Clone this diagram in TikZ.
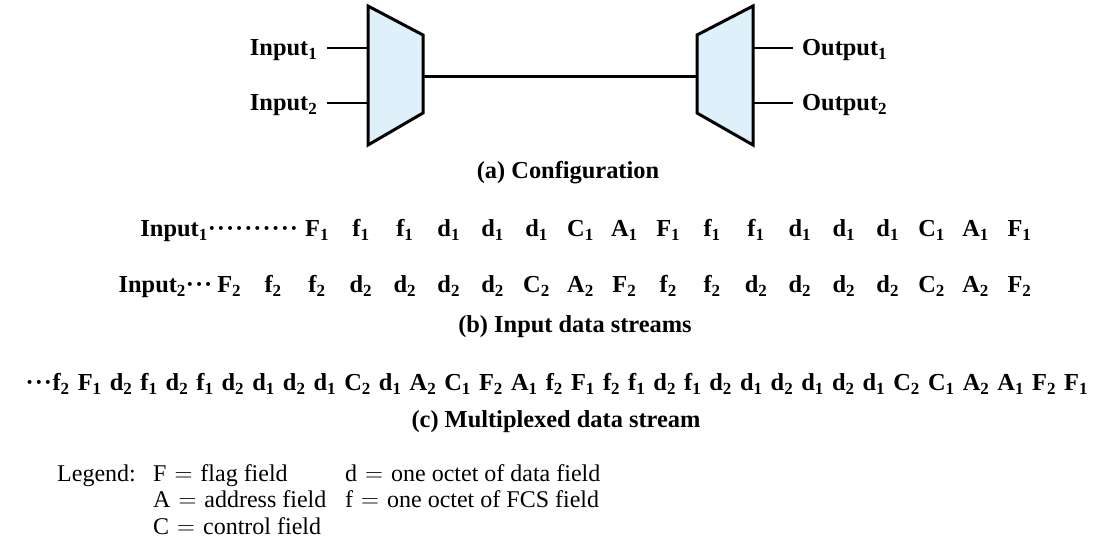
\documentclass[tikz,border=0pt]{standalone}
\usepackage{fontspec}
\setmainfont{Liberation Serif}
\usetikzlibrary{positioning}
\definecolor{muxblue}{RGB}{222,240,250}
\newcommand{\dotrun}[1]{\foreach \i in {1,...,#1}{\kern0.5pt\textperiodcentered\kern0.5pt}}
\newcommand{\sub}[1]{\raisebox{-4pt}{\fontsize{17}{17}\selectfont #1}}
\newcommand{\eq}{\ \hspace{2pt}$=$\hspace{2pt}\ }

\begin{document}
\begin{tikzpicture}[x=1pt,y=-1pt]
\tikzstyle{every node}=[font=\fontsize{24.4}{28}\selectfont\bfseries, inner sep=0pt]
\tikzstyle{legend}=[font=\fontsize{24}{28}\selectfont, anchor=base west]
\tikzstyle{mux}=[draw, line width=3pt, fill=muxblue, line join=miter]
\tikzstyle{wire}=[line width=1.5pt]
\tikzstyle{item}=[anchor=base]
\useasboundingbox (0,0) rectangle (1113,547);

\coordinate (muxL in1) at (368,48);
\coordinate (muxL in2) at (368,103);
\coordinate (muxL out) at (423,76);
\coordinate (muxR in) at (697,76);
\coordinate (muxR out1) at (753,48);
\coordinate (muxR out2) at (753,103);

\draw[mux] (368,6) -- (423,35) -- (423,113) -- (368,145) -- cycle;
\draw[mux] (753,6) -- (697,35) -- (697,113) -- (753,145) -- cycle;
\draw[line width=3pt] (muxL out) -- (muxR in);

\node[left=41pt of muxL in1, inner xsep=10pt, yshift=-2pt] (in1) {Input\sub{1}};
\node[left=41pt of muxL in2, inner xsep=10pt, yshift=-2pt] (in2) {Input\sub{2}};
\node[right=40pt of muxR out1, inner xsep=9pt, yshift=-2pt] (out1) {Output\sub{1}};
\node[right=40pt of muxR out2, inner xsep=9pt, yshift=-2pt] (out2) {Output\sub{2}};
\draw[wire] (in1.east |- muxL in1) -- (muxL in1);
\draw[wire] (in2.east |- muxL in2) -- (muxL in2);
\draw[wire] (muxR out1) -- (out1.west |- muxR out1);
\draw[wire] (muxR out2) -- (out2.west |- muxR out2);

\node[item] (capA) at (568,178) {(a) Configuration};

\foreach \sym [count=\k from 2] in {F,f,f,d,d,d,C,A,F,f,f,d,d,d,C,A,F}
  \node[item] (a\k) at (229+43.9*\k,236) {\sym\sub{1}};
\foreach \sym [count=\k from 0] in {F,f,f,d,d,d,d,C,A,F,f,f,d,d,d,d,C,A,F}
  \node[item] (b\k) at (229+43.9*\k,292) {\sym\sub{2}};
\node[anchor=base east] (lab1) at ([xshift=-6pt]a2.base west) {Input\sub{1}\dotrun{10}};
\node[anchor=base east] (lab2) at ([xshift=-4pt]b0.base west) {Input\sub{2}\dotrun{3}};

\node[item] (capB) at (575,332) {(b) Input data streams};

\node[anchor=base west] (stream) at (25,390) {\dotrun{3}\makebox[1035pt][s]{f\sub{2} F\sub{1} d\sub{2} f\sub{1} d\sub{2} f\sub{1} d\sub{2} d\sub{1} d\sub{2} d\sub{1} C\sub{2} d\sub{1} A\sub{2} C\sub{1} F\sub{2} A\sub{1} f\sub{2} F\sub{1} f\sub{2} f\sub{1} d\sub{2} f\sub{1} d\sub{2} d\sub{1} d\sub{2} d\sub{1} d\sub{2} d\sub{1} C\sub{2} C\sub{1} A\sub{2} A\sub{1} F\sub{2} F\sub{1}}};

\node[item] (capC) at (556,427) {(c) Multiplexed data stream};

\node[legend] (leg) at (57,481) {Legend:};
\node[legend] (legF) at (153,481) {F\eq flag field};
\node[legend] (legA) at (153,507) {A\eq address field};
\node[legend] (legC) at (153,534) {C\eq control field};
\node[legend] (legd) at (345,481) {d\eq one octet of data field};
\node[legend] (legf) at (345,507) {f\eq one octet of FCS field};
\end{tikzpicture}
\end{document}
